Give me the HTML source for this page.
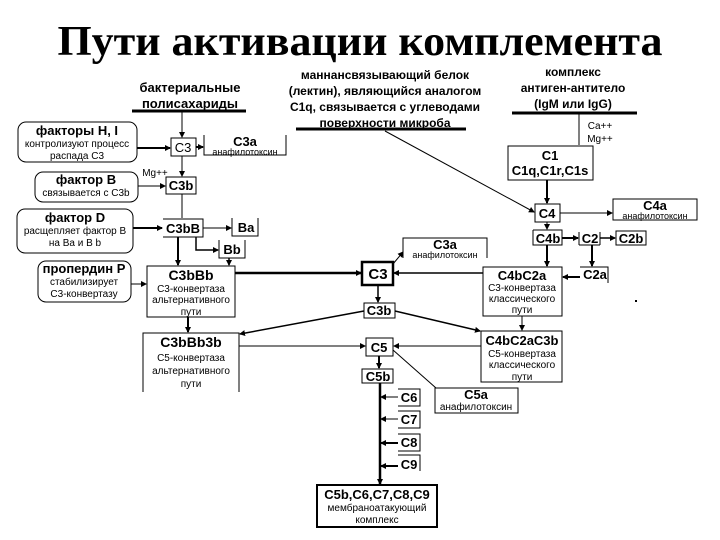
<!DOCTYPE html>
<html><head><meta charset="utf-8"><style>
html,body{margin:0;padding:0;background:#fff;}
svg{display:block;font-family:"Liberation Sans","Noto Sans CJK SC",sans-serif;}
.b{font-weight:bold;}
.s{font-size:10px;}
</style></head><body>
<svg width="720" height="540" viewBox="0 0 720 540" xmlns="http://www.w3.org/2000/svg">
<defs><marker id="a" markerWidth="6" markerHeight="6" refX="5" refY="3" orient="auto" markerUnits="userSpaceOnUse"><path d="M0,0 L6,3 L0,6z" fill="#000"/></marker></defs>
<rect width="720" height="540" fill="#fff"/>
<text x="360" y="55" text-anchor="middle" font-family="Liberation Serif,serif" font-weight="bold" font-size="42" textLength="605" lengthAdjust="spacingAndGlyphs">Пути активации комплемента</text>

<g fill="none" stroke="#000" stroke-width="1">
<!-- left rounded boxes -->
<rect x="18" y="122" width="119" height="40" rx="8"/>
<rect x="35" y="172" width="103" height="30" rx="8"/>
<rect x="17" y="209" width="116" height="44" rx="8"/>
<rect x="38" y="261" width="93" height="41" rx="8"/>
<!-- underlines -->
<line x1="132" y1="111" x2="246" y2="111" stroke-width="3"/>
<line x1="296" y1="129" x2="466" y2="129" stroke-width="3"/>
<line x1="512" y1="113" x2="637" y2="113" stroke-width="3"/>
<!-- boxes -->
<rect x="171" y="138" width="25" height="18"/>
<path d="M204,135 V155 H286 V135"/>
<rect x="166" y="177" width="30" height="17"/>
<path d="M163,219 H203 V237 H163"/>
<path d="M232,218 V236 H258 V218"/>
<path d="M219,240 V258 H245 V240"/>
<rect x="147" y="266" width="88" height="51"/>
<path d="M143,392 V333 H239 V392"/>
<rect x="508" y="146" width="85" height="34"/>
<rect x="535" y="204" width="25" height="18"/>
<rect x="613" y="199" width="84" height="21"/>
<path d="M533,230 V245 H562 V230 H533"/>
<path d="M579,232 V245 M600,232 V245 M579,245 H600"/>
<rect x="616" y="231" width="30" height="14"/>
<path d="M580,267 H608 V283"/>
<rect x="483" y="267" width="79" height="49"/>
<rect x="481" y="331" width="81" height="51"/>
<rect x="362" y="262" width="31" height="23" stroke-width="2.5"/>
<path d="M403,258 V238 H487 V258"/>
<rect x="364" y="303" width="31" height="15"/>
<rect x="366" y="338" width="27" height="18"/>
<rect x="362" y="369" width="31" height="14"/>
<rect x="435" y="388" width="83" height="25"/>
<path d="M398,389 H420 V406 H398"/>
<path d="M398,411 H420 V428 H398"/>
<path d="M398,434 H420 V451 H398"/>
<path d="M398,455 H420 V471"/>
<rect x="317" y="485" width="120" height="42" stroke-width="2"/>
<!-- connectors -->
<line x1="182" y1="112" x2="182" y2="137" marker-end="url(#a)"/>
<line x1="137" y1="148" x2="170" y2="148" stroke-width="2" marker-end="url(#a)"/>
<line x1="196" y1="147" x2="203" y2="147" stroke-width="2" marker-end="url(#a)"/>
<line x1="182" y1="156" x2="182" y2="176" marker-end="url(#a)"/>
<line x1="138" y1="186" x2="165" y2="186" marker-end="url(#a)"/>
<line x1="182" y1="194" x2="182" y2="218"/>
<line x1="133" y1="228" x2="162" y2="228" stroke-width="2" marker-end="url(#a)"/>
<line x1="203" y1="228" x2="231" y2="228" marker-end="url(#a)"/>
<path d="M196,237 V250 H218" marker-end="url(#a)" stroke-width="1.5"/>
<line x1="178" y1="237" x2="178" y2="265" stroke-width="2" marker-end="url(#a)"/>
<line x1="229" y1="258" x2="229" y2="265" stroke-width="1.5" marker-end="url(#a)"/>
<line x1="131" y1="284" x2="146" y2="284" marker-end="url(#a)"/>
<line x1="188" y1="317" x2="188" y2="332" stroke-width="2" marker-end="url(#a)"/>
<line x1="235" y1="273" x2="361" y2="273" stroke-width="2.5" marker-end="url(#a)"/>
<line x1="385" y1="131" x2="534" y2="212" marker-end="url(#a)"/>
<line x1="579" y1="114" x2="579" y2="145"/>
<line x1="547" y1="180" x2="547" y2="203" stroke-width="2" marker-end="url(#a)"/>
<line x1="560" y1="213" x2="612" y2="213" marker-end="url(#a)"/>
<line x1="547" y1="222" x2="547" y2="229" marker-end="url(#a)"/>
<line x1="562" y1="238" x2="578" y2="238" stroke-width="2" marker-end="url(#a)"/>
<line x1="600" y1="238" x2="615" y2="238" stroke-width="1.5" marker-end="url(#a)"/>
<line x1="547" y1="245" x2="547" y2="266" stroke-width="2" marker-end="url(#a)"/>
<line x1="592" y1="245" x2="592" y2="266" stroke-width="2" marker-end="url(#a)"/>
<line x1="580" y1="277" x2="563" y2="277" stroke-width="2" marker-end="url(#a)"/>
<line x1="483" y1="273" x2="394" y2="273" stroke-width="1.5" marker-end="url(#a)"/>
<line x1="393" y1="264" x2="403" y2="252" marker-end="url(#a)"/>
<line x1="378" y1="285" x2="378" y2="302" stroke-width="1.5" marker-end="url(#a)"/>
<line x1="522" y1="316" x2="522" y2="330" marker-end="url(#a)"/>
<line x1="364" y1="311" x2="240" y2="334" stroke-width="1.5" marker-end="url(#a)"/>
<line x1="395" y1="311" x2="480" y2="331" stroke-width="1.5" marker-end="url(#a)"/>
<line x1="239" y1="346" x2="365" y2="346" marker-end="url(#a)"/>
<line x1="481" y1="346" x2="394" y2="346" marker-end="url(#a)"/>
<line x1="379" y1="356" x2="379" y2="368" stroke-width="2" marker-end="url(#a)"/>
<line x1="393" y1="350" x2="436" y2="388"/>
<line x1="380" y1="383" x2="380" y2="484" stroke-width="2.5" marker-end="url(#a)"/>
<line x1="398" y1="397" x2="381" y2="397" marker-end="url(#a)"/>
<line x1="398" y1="419" x2="381" y2="419" marker-end="url(#a)"/>
<line x1="398" y1="443" x2="381" y2="443" stroke-width="2" marker-end="url(#a)"/>
<line x1="398" y1="466" x2="381" y2="466" stroke-width="2" marker-end="url(#a)"/>
</g>
<rect x="635" y="300" width="2" height="2" fill="#000"/>

<g font-size="12" text-anchor="middle">
<text x="190" y="92" class="b" font-size="13">бактериальные</text>
<text x="190" y="108" class="b" font-size="13">полисахариды</text>
<text x="385" y="79" class="b" font-size="12">маннансвязывающий белок</text>
<text x="385" y="95" class="b" font-size="12">(лектин), являющийся аналогом</text>
<text x="385" y="111" class="b" font-size="12">С1q, связывается с углеводами</text>
<text x="385" y="127" class="b" font-size="12">поверхности микроба</text>
<text x="573" y="76" class="b" font-size="12">комплекс</text>
<text x="573" y="92" class="b" font-size="12">антиген-антитело</text>
<text x="573" y="108" class="b" font-size="12">(IgM или IgG)</text>
<text x="600" y="129" font-size="10">Ca++</text>
<text x="600" y="142" font-size="10">Mg++</text>

<text x="77" y="135" class="b" font-size="13">факторы H, I</text>
<text x="77" y="147" class="s">контролизуют процесс</text>
<text x="77" y="159" class="s">распада С3</text>
<text x="86" y="184" class="b" font-size="13">фактор В</text>
<text x="86" y="196" class="s">связывается с С3b</text>
<text x="75" y="222" class="b" font-size="13">фактор D</text>
<text x="75" y="234" class="s">расщепляет фактор В</text>
<text x="75" y="246" class="s">на Ba и B b</text>
<text x="84" y="273" class="b" font-size="13">пропердин P</text>
<text x="84" y="285" class="s">стабилизирует</text>
<text x="84" y="297" class="s">С3-конвертазу</text>

<text x="183" y="152" font-size="13">C3</text>
<text x="245" y="146" class="b" font-size="13">C3a</text>
<text x="245" y="155" font-size="9">анафилотоксин</text>
<text x="155" y="176" font-size="10">Mg++</text>
<text x="181" y="190" class="b" font-size="13">C3b</text>
<text x="183" y="233" class="b" font-size="13">C3bB</text>
<text x="246" y="232" class="b" font-size="13">Ba</text>
<text x="232" y="254" class="b" font-size="13">Bb</text>
<text x="191" y="280" class="b" font-size="14">C3bBb</text>
<text x="191" y="292" class="s">С3-конвертаза</text>
<text x="191" y="303" class="s">альтернативного</text>
<text x="191" y="315" class="s">пути</text>
<text x="191" y="347" class="b" font-size="14">C3bBb3b</text>
<text x="191" y="361" class="s">С5-конвертаза</text>
<text x="191" y="374" class="s">альтернативного</text>
<text x="191" y="387" class="s">пути</text>

<text x="550" y="160" class="b" font-size="13">C1</text>
<text x="550" y="175" class="b" font-size="13">C1q,C1r,C1s</text>
<text x="547" y="218" class="b" font-size="13">C4</text>
<text x="655" y="210" class="b" font-size="13">C4a</text>
<text x="655" y="219" font-size="9">анафилотоксин</text>
<text x="548" y="243" class="b" font-size="13">C4b</text>
<text x="590" y="243" class="b" font-size="13">C2</text>
<text x="631" y="243" class="b" font-size="13">C2b</text>
<text x="595" y="279" class="b" font-size="13">C2a</text>
<text x="522" y="280" class="b" font-size="13">C4bC2a</text>
<text x="522" y="291" class="s">С3-конвертаза</text>
<text x="522" y="302" class="s">классического</text>
<text x="522" y="313" class="s">пути</text>
<text x="522" y="345" class="b" font-size="13">C4bC2aC3b</text>
<text x="522" y="357" class="s">С5-конвертаза</text>
<text x="522" y="368" class="s">классического</text>
<text x="522" y="380" class="s">пути</text>
<text x="378" y="279" class="b" font-size="15">C3</text>
<text x="445" y="249" class="b" font-size="13">C3a</text>
<text x="445" y="258" font-size="9">анафилотоксин</text>
<text x="379" y="315" class="b" font-size="13">C3b</text>
<text x="379" y="352" class="b" font-size="13">C5</text>
<text x="378" y="381" class="b" font-size="13">C5b</text>
<text x="476" y="399" class="b" font-size="13">C5a</text>
<text x="476" y="410" font-size="10">анафилотоксин</text>
<text x="409" y="402" class="b" font-size="13">C6</text>
<text x="409" y="424" class="b" font-size="13">C7</text>
<text x="409" y="447" class="b" font-size="13">C8</text>
<text x="409" y="469" class="b" font-size="13">C9</text>
<text x="377" y="499" class="b" font-size="13">C5b,C6,C7,C8,C9</text>
<text x="377" y="511" class="s">мембраноатакующий</text>
<text x="377" y="523" class="s">комплекс</text>
</g>
</svg>
</body></html>
